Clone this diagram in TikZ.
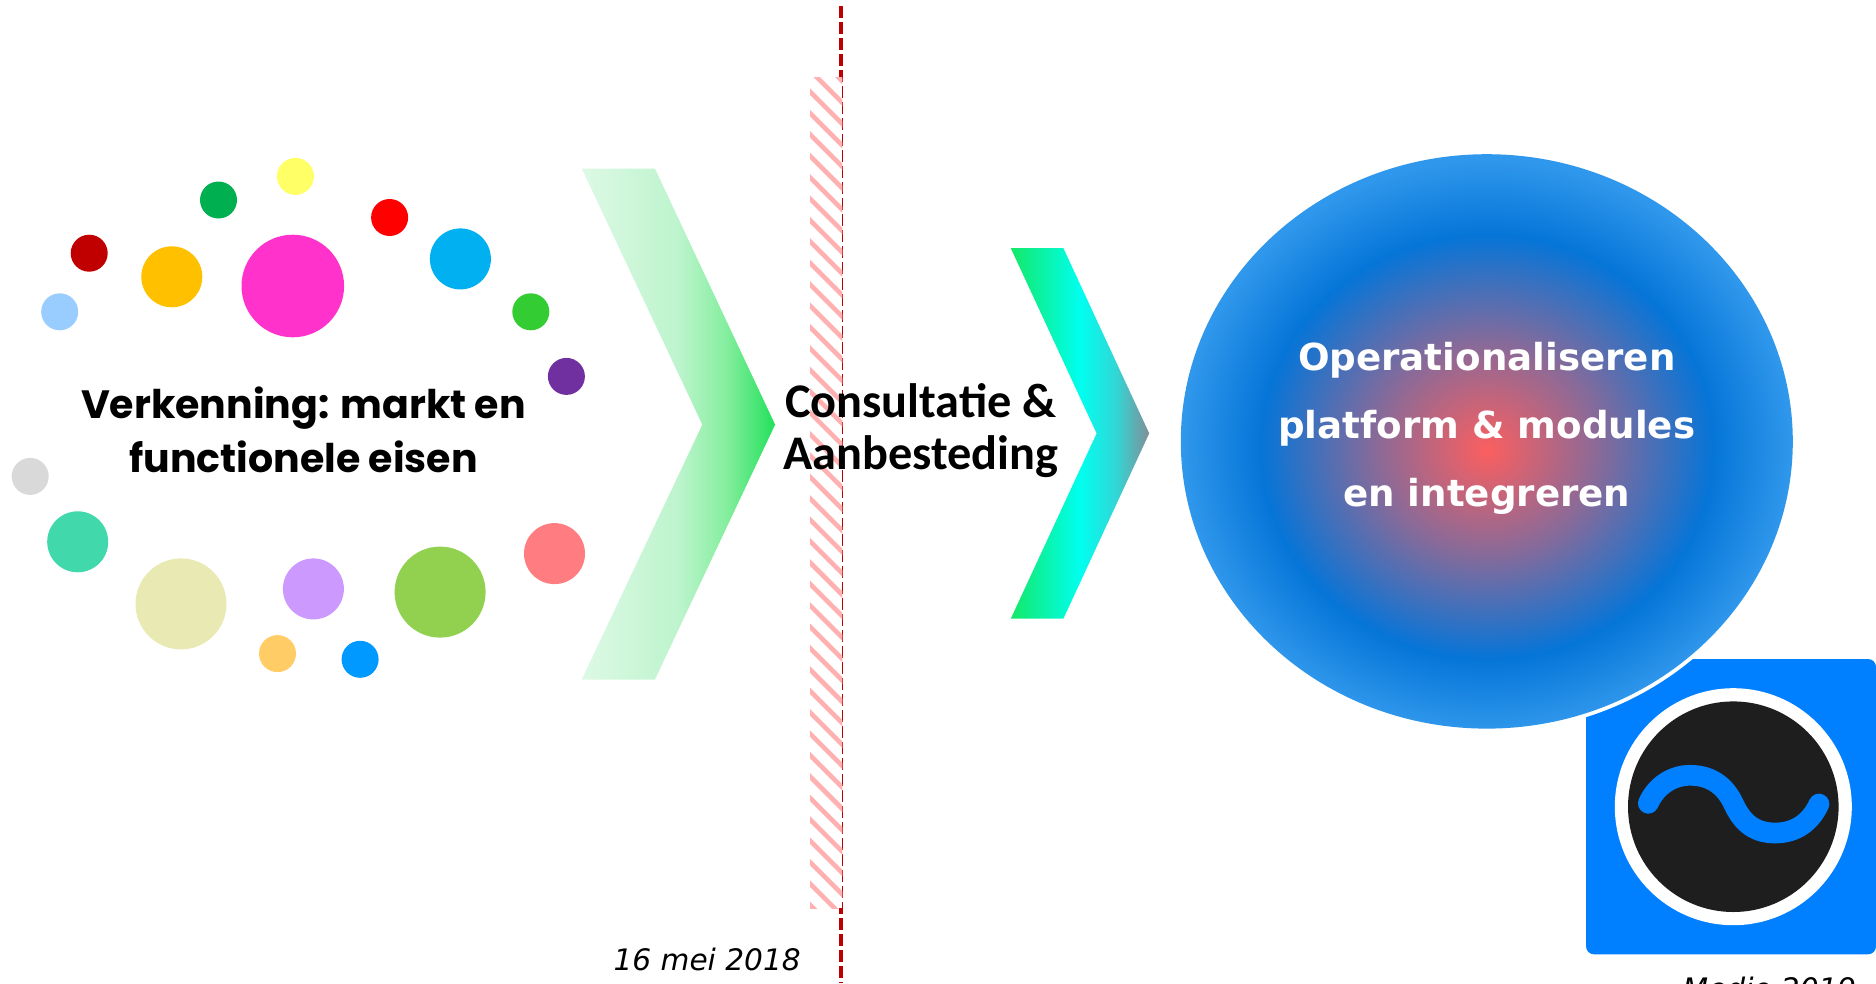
\documentclass[tikz,border=0pt]{standalone}
\usepackage{fontspec}
\setmainfont{DejaVu Sans}
\newfontfamily\roundfont{Poppins}
\newfontfamily\calfont{Carlito}
\usetikzlibrary{calc}
\definecolor{cA}{HTML}{DDF9E5}\definecolor{cB}{HTML}{BDF4CD}\definecolor{cC}{HTML}{84EE9E}\definecolor{cD}{HTML}{22E05A}
\definecolor{dA}{HTML}{14E868}\definecolor{dB}{HTML}{00FFF0}\definecolor{dC}{HTML}{30D8D8}\definecolor{dD}{HTML}{808F98}
\definecolor{rA}{HTML}{FB5F5F}\definecolor{rB}{HTML}{8A6A98}\definecolor{rC}{HTML}{0575D8}\definecolor{rD}{HTML}{3098EC}
\pgfdeclarehorizontalshading{chevlight}{100bp}{color(0bp)=(cA);color(25bp)=(cA);color(50bp)=(cB);color(62.5bp)=(cC);color(75bp)=(cD);color(100bp)=(cD)}
\pgfdeclarehorizontalshading{chevdark}{100bp}{color(0bp)=(dA);color(25bp)=(dA);color(50bp)=(dB);color(62.5bp)=(dC);color(75bp)=(dD);color(100bp)=(dD)}
\pgfdeclareradialshading{blob}{\pgfpoint{0bp}{-0.75bp}}{color(0bp)=(rA);color(9bp)=(rB);color(18.5bp)=(rC);color(25bp)=(rD);color(50bp)=(rD)}
\tikzset{
  bigtext/.style={font=\roundfont\bfseries\fontsize{39.5}{53.5}\selectfont,align=center,inner sep=0pt,text=black,anchor=base},
  midtext/.style={font=\calfont\bfseries\fontsize{48.3}{52.6}\selectfont,align=center,inner sep=0pt,text=black,anchor=base},
  whitetext/.style={font=\bfseries\fontsize{37.2}{68}\selectfont,align=center,inner sep=0pt,text=white,anchor=base},
  datetext/.style={font=\itshape\fontsize{29.6}{35}\selectfont,inner sep=0pt,text=black,anchor=base},
}
\begin{document}
\begin{tikzpicture}[x=1pt,y=-1pt]
\useasboundingbox (0,0) rectangle (1876,983);
% scattered dots
\foreach \cx/\cy/\rr/\col in {
 295.4/176.4/18.5/FFFF66, 218.5/200/18.5/00B050, 389.6/217.5/18.5/FF0000,
 89.2/253.2/18.5/C00000, 59.7/311.8/18.5/99CCFF, 171.8/276.8/30.5/FFC000,
 292.8/286/51.3/FF33CC, 460.4/258.9/30.5/00B0F0, 530.8/311.8/18.5/33CC33,
 566.4/376.4/18.5/7030A0, 30.2/476.4/18.5/D9D9D9, 77.7/541.8/30.5/41D9AC,
 181/603.9/45.5/E9E9B4, 313.4/588.9/30.5/CC99FF, 440.1/592.1/45.5/92D050,
 554.5/553.6/30.5/FF7C80, 277.5/653.6/18.5/FFCC66, 360.1/659.3/18.5/0099FF}{
  \definecolor{tmpc}{HTML}{\col}
  \fill[tmpc] (\cx,\cy) circle [radius=\rr];
}
% chevrons
\shade[shading=chevlight] (581.7,168.5) -- (654.9,168.5) -- (775.1,424.6) -- (654.9,679.6) -- (581.7,679.6) -- (702.3,424.6) -- cycle;
\shade[shading=chevdark] (1010.8,248.2) -- (1063.4,248.2) -- (1149.2,433.4) -- (1063.4,618.6) -- (1010.8,618.6) -- (1096.6,433.4) -- cycle;
% dashed divider
\coordinate (divtop) at (841.3,6);
\coordinate (divbot) at (841.3,983);
\definecolor{divred}{HTML}{C00000}
\draw[divred,line width=4pt,dash pattern=on 12.3pt off 3.7pt] (divtop) -- (divbot);
% hatched band
\definecolor{hatchpink}{HTML}{FFB0B0}
\fill[white] (810,77) rectangle (842.3,908);
\begin{scope}
  \clip (810,77) rectangle (842.3,908);
  \foreach \k in {-3,...,39}{
    \draw[hatchpink,line width=4.6pt] (800,{81.7+\k*21.4}) -- (852,{133.7+\k*21.4});
  }
\end{scope}
% logo
\definecolor{logoblue}{HTML}{0080FF}
\definecolor{logodark}{HTML}{1E1E1E}
\fill[logoblue,rounded corners=8pt] (1586,659) rectangle (1876,954.3);
\fill[white] (1733.3,806.7) circle [radius=118.5];
\fill[logodark] (1733.3,806.7) circle [radius=105.3];
\draw[logoblue,line width=20.7pt,line cap=round] (1648.3,803.3) .. controls (1656,786) and (1672,775.3) .. (1690,775.3) .. controls (1713,775.3) and (1726,788) .. (1733.3,803.3) .. controls (1741,820) and (1752,833) .. (1775,833) .. controls (1797,833) and (1811,821) .. (1819,804);
% blob
\fill[white] (1486.8,441.4) ellipse [x radius=310, y radius=291];
\shade[shading=blob] (1486.8,441.4) ellipse [x radius=306, y radius=287.2];
% texts
\node[bigtext] (verk) at (303.5,472.1) {Verkenning: markt en\\functionele eisen};
\node[midtext] (cons) at (920.9,469.8) {Consultatie \&\\Aanbesteding};
\node[whitetext] (oper) at (1486.8,506) {Operationaliseren\\platform \& modules\\en integreren};
\node[datetext] (d1) at (707.2,970) {16 mei 2018};
\node[datetext] (d2) at (1769.5,999.5) {Medio 2019};
\end{tikzpicture}
\end{document}
